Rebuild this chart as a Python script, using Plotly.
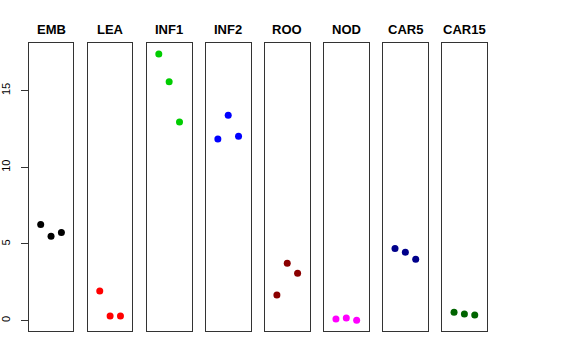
import plotly.graph_objects as go

categories = ["EMB", "LEA", "INF1", "INF2", "ROO", "NOD", "CAR5", "CAR15"]
colors = ["#000000", "#FF0000", "#00CD00", "#0000FF", "#8B0000", "#FF00FF", "#00008B", "#006400"]
replicate = [1, 2, 3]
values = {
    "EMB": [6.27, 5.51, 5.75],
    "LEA": [1.94, 0.31, 0.31],
    "INF1": [17.39, 15.57, 12.95],
    "INF2": [11.84, 13.39, 12.02],
    "ROO": [1.68, 3.74, 3.09],
    "NOD": [0.11, 0.18, 0.02],
    "CAR5": [4.70, 4.46, 4.00],
    "CAR15": [0.54, 0.44, 0.37],
}
y_ticks = [0, 5, 10, 15]

W, H = 576, 360
x0, step, pw = 28.7, 59.05, 44.7
ytop, ybot = 43.3, 331.0

fig = go.Figure()
lay = {}
annotations = []
for i, (cat, col) in enumerate(zip(categories, colors)):
    n = "" if i == 0 else str(i + 1)
    fig.add_trace(go.Scatter(
        x=replicate, y=values[cat], mode="markers",
        marker=dict(color=col, size=7),
        xaxis="x" + n, yaxis="y" + n, showlegend=False,
    ))
    left = x0 + i * step
    lay["xaxis" + n] = dict(
        domain=[left / W, (left + pw) / W], range=[-0.16, 4.16],
        showline=True, mirror=True, linecolor="#333", linewidth=1,
        showgrid=False, zeroline=False, showticklabels=False, ticks="",
        anchor="y" + n, fixedrange=True,
    )
    yax = dict(
        domain=[(H - ybot) / H, (H - ytop) / H], range=[-0.675, 18.085],
        showline=True, mirror=True, linecolor="#333", linewidth=1,
        showgrid=False, zeroline=False, anchor="x" + n, fixedrange=True,
    )
    if i == 0:
        yax.update(tickvals=y_ticks, ticktext=[str(v) for v in y_ticks],
                   ticks="outside", ticklen=7, tickcolor="#333",
                   tickangle=-90, ticklabelstandoff=6,
                   tickfont=dict(family="Liberation Sans, Arial", size=11, color="#000"),
                   automargin=False)
    else:
        yax.update(showticklabels=False, ticks="", matches="y")
    lay["yaxis" + n] = yax
    annotations.append(dict(
        text="<b>" + cat + "</b>", x=(left + pw / 2) / W, y=(H - 29.5) / H,
        xref="paper", yref="paper", xanchor="center", yanchor="middle",
        showarrow=False, font=dict(family="Liberation Sans, Arial", size=13, color="#000"),
    ))

fig.update_layout(
    width=W, height=H, margin=dict(l=0, r=0, t=0, b=0),
    paper_bgcolor="white", plot_bgcolor="white",
    annotations=annotations, **lay,
)
fig.write_html("out.html", config={"displayModeBar": False},
               post_script="document.body.style.margin='0';document.body.style.overflow='hidden';")
